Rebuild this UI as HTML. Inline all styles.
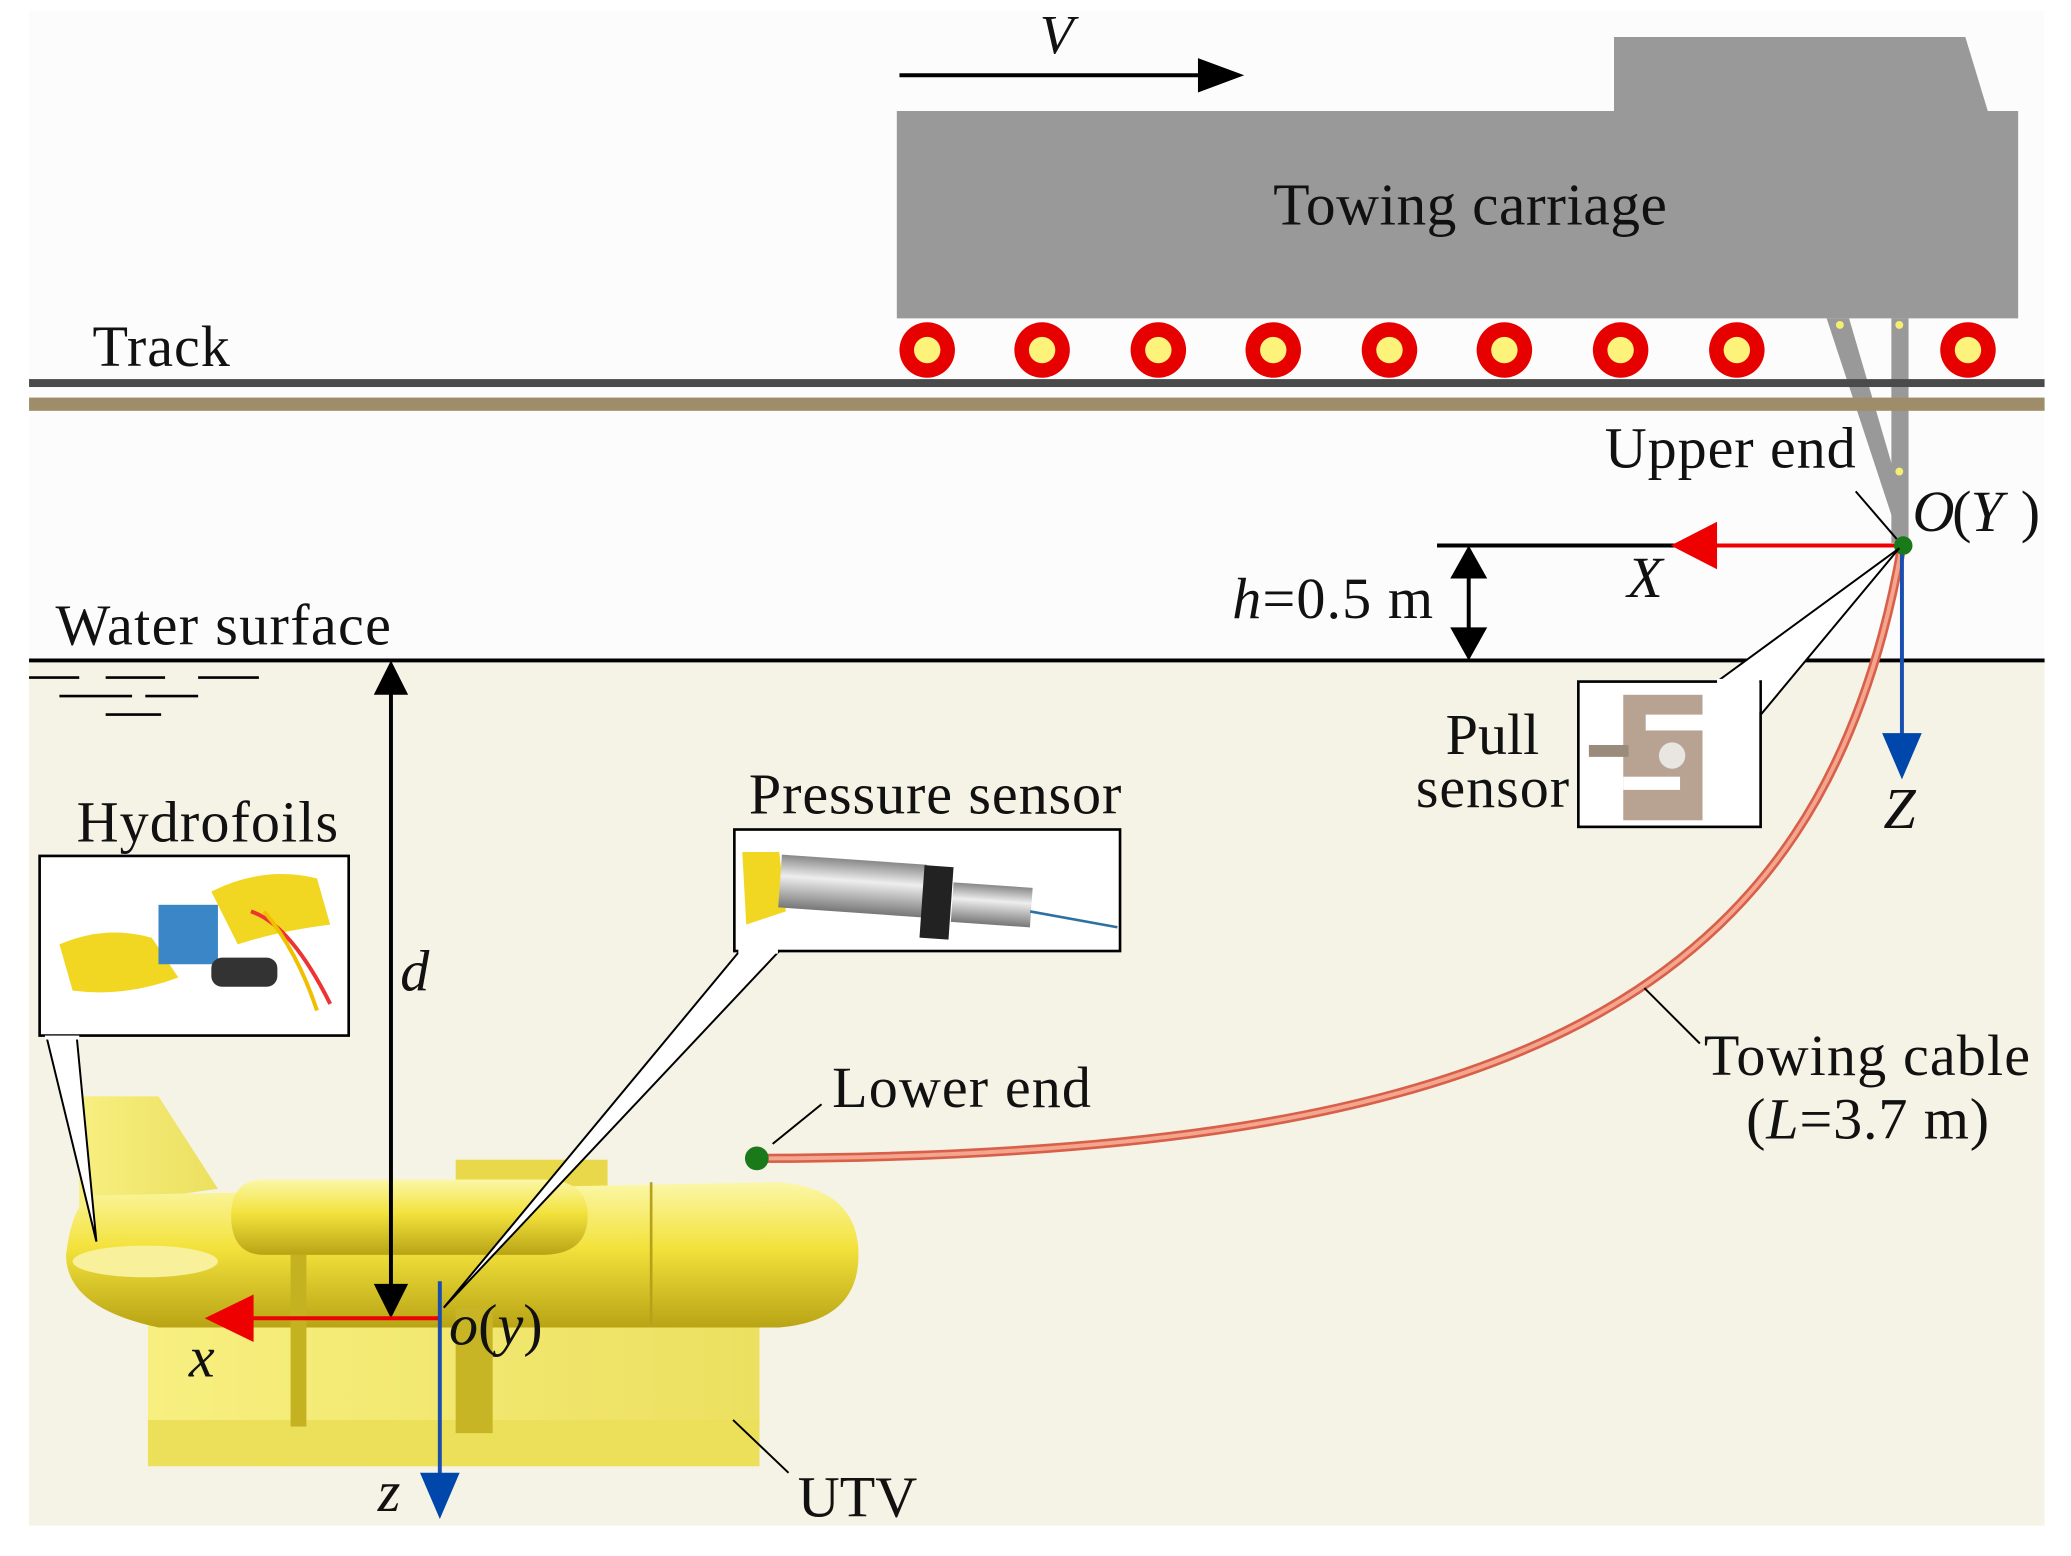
<!DOCTYPE html>
<html><head><meta charset="utf-8"><style>
html,body{margin:0;padding:0;background:#fff;}
svg{display:block;}
text{font-family:"Liberation Serif",serif;fill:#111;}
.i{font-style:italic;}
</style></head><body>
<svg width="2071" height="1556" viewBox="0 0 1568 1178" preserveAspectRatio="none" xmlns="http://www.w3.org/2000/svg">
<defs>
<linearGradient id="yb" x1="0" y1="0" x2="0" y2="1">
<stop offset="0" stop-color="#fbf7a8"/><stop offset="0.45" stop-color="#f3e23c"/><stop offset="1" stop-color="#b9a415"/>
</linearGradient>
<linearGradient id="yl" x1="0" y1="0" x2="1" y2="0">
<stop offset="0" stop-color="#f7ef80"/><stop offset="1" stop-color="#ece060"/>
</linearGradient>
<linearGradient id="met" x1="0" y1="0" x2="0" y2="1">
<stop offset="0" stop-color="#888"/><stop offset="0.4" stop-color="#eee"/><stop offset="1" stop-color="#777"/>
</linearGradient>
</defs>
<rect x="0" y="0" width="1568" height="1178" fill="#fff"/>
<rect x="22" y="8" width="1526" height="492" fill="#fcfcfc"/>
<rect x="22" y="500" width="1526" height="655" fill="#f5f3e5"/>

<!-- carriage -->
<polygon points="1222,28 1488,28 1505,84 1528,84 1528,241 679,241 679,84 1222,84" fill="#999"/>
<text x="1113" y="170" font-size="45" text-anchor="middle" textLength="298">Towing carriage</text>
<line x1="681" y1="57" x2="912" y2="57" stroke="#000" stroke-width="3"/>
<polygon points="942,57 907,44 907,70" fill="#000"/>
<text x="800" y="40" font-size="42" class="i" text-anchor="middle">V</text>

<!-- strut -->
<polygon points="1383,241 1400,241 1445,395 1437,405" fill="#999"/>
<rect x="1432" y="241" width="13" height="170" fill="#999"/>
<circle cx="1393" cy="246" r="3" fill="#f5ee70"/>
<circle cx="1438" cy="246" r="3" fill="#f5ee70"/>
<circle cx="1438" cy="357" r="3" fill="#f5ee70"/>

<!-- wheels -->
<g fill="#e60000">
<circle cx="702" cy="265" r="21"/><circle cx="789" cy="265" r="21"/><circle cx="877" cy="265" r="21"/><circle cx="964" cy="265" r="21"/><circle cx="1052" cy="265" r="21"/><circle cx="1139" cy="265" r="21"/><circle cx="1227" cy="265" r="21"/><circle cx="1315" cy="265" r="21"/><circle cx="1490" cy="265" r="21"/>
</g>
<g fill="#fdf27a">
<circle cx="702" cy="265" r="10"/><circle cx="789" cy="265" r="10"/><circle cx="877" cy="265" r="10"/><circle cx="964" cy="265" r="10"/><circle cx="1052" cy="265" r="10"/><circle cx="1139" cy="265" r="10"/><circle cx="1227" cy="265" r="10"/><circle cx="1315" cy="265" r="10"/><circle cx="1490" cy="265" r="10"/>
</g>

<!-- track -->
<rect x="22" y="287" width="1526" height="6" fill="#4a4a4a"/>
<rect x="22" y="301" width="1526" height="10" fill="#9e8d68"/>
<text x="70" y="277" font-size="44" textLength="104">Track</text>

<!-- upper end -->
<text x="1215" y="354" font-size="44" textLength="190">Upper end</text>
<line x1="1405" y1="372" x2="1436" y2="408" stroke="#000" stroke-width="1.5"/>
<text x="1448" y="402" font-size="44" class="i">O</text>
<text x="1478" y="402" font-size="44">(</text>
<text x="1492" y="402" font-size="44" class="i">Y</text>
<text x="1530" y="402" font-size="44">)</text>

<!-- X axis -->
<line x1="1088" y1="413" x2="1300" y2="413" stroke="#000" stroke-width="3"/>
<line x1="1298" y1="413" x2="1440" y2="413" stroke="#e00" stroke-width="3"/>
<polygon points="1265,413 1300,395 1300,431" fill="#e00"/>
<text x="1232" y="452" font-size="44" class="i">X</text>

<!-- h -->
<text x="933" y="468" font-size="44" textLength="152"><tspan class="i">h</tspan>=0.5 m</text>
<line x1="1112" y1="430" x2="1112" y2="484" stroke="#000" stroke-width="3"/>
<polygon points="1112,413 1098,438 1126,438" fill="#000"/>
<polygon points="1112,500 1098,475 1126,475" fill="#000"/>

<!-- water surface -->
<line x1="22" y1="500" x2="1548" y2="500" stroke="#000" stroke-width="3"/>
<text x="42" y="488" font-size="44" textLength="254">Water surface</text>
<g stroke="#000" stroke-width="2">
<line x1="22" y1="513" x2="60" y2="513"/><line x1="80" y1="513" x2="125" y2="513"/><line x1="150" y1="513" x2="196" y2="513"/>
<line x1="45" y1="527" x2="100" y2="527"/><line x1="110" y1="527" x2="150" y2="527"/>
<line x1="80" y1="541" x2="122" y2="541"/>
</g>

<!-- towing cable -->
<path d="M1440,413 C1380,760 1140,876 573,877" fill="none" stroke="#d8604a" stroke-width="7"/>
<path d="M1440,413 C1380,760 1140,876 573,877" fill="none" stroke="#f4a58e" stroke-width="3"/>

<!-- Z axis -->
<line x1="1440" y1="413" x2="1440" y2="560" stroke="#1a4fb0" stroke-width="3"/>
<polygon points="1440,590 1425,555 1455,555" fill="#0047ab"/>
<text x="1426" y="627" font-size="44" class="i">Z</text>
<circle cx="1441" cy="413" r="7" fill="#1a7a1a"/>

<!-- pull sensor -->
<polygon points="1438,415 1300,516 1334,540" fill="#fff" stroke="#000" stroke-width="1.5"/>
<rect x="1195" y="516" width="138" height="110" fill="#fff" stroke="#000" stroke-width="2"/>
<rect x="1300" y="514" width="32" height="25" fill="#fff"/>
<rect x="1229" y="526" width="60" height="95" fill="#b8a392"/>
<rect x="1246" y="541" width="43" height="12" fill="#fff"/>
<rect x="1229" y="588" width="43" height="10" fill="#fff"/>
<circle cx="1266" cy="572" r="10" fill="#e8e6e0"/>
<rect x="1203" y="564" width="30" height="9" fill="#9a8b7a"/>
<text x="1130" y="571" font-size="44" text-anchor="middle">Pull</text>
<text x="1130" y="611" font-size="44" text-anchor="middle" textLength="116">sensor</text>

<!-- towing cable label -->
<line x1="1245" y1="748" x2="1287" y2="790" stroke="#000" stroke-width="1.5"/>
<text x="1290" y="814" font-size="44" textLength="247">Towing cable</text>
<text x="1322" y="862" font-size="44" textLength="184">(<tspan class="i">L</tspan>=3.7 m)</text>

<!-- UTV -->
<polygon points="60,830 120,830 165,900 60,915" fill="url(#yl)"/>
<rect x="112" y="985" width="463" height="125" fill="url(#yl)"/>
<rect x="112" y="1075" width="463" height="35" fill="#ece05a"/>
<rect x="345" y="878" width="115" height="30" fill="#e9d84a"/>
<path d="M70,905 L590,895 Q650,900 650,950 Q650,1000 590,1005 L120,1005 Q50,990 50,950 Q55,910 70,905Z" fill="url(#yb)"/>
<path d="M200,893 L410,893 Q445,893 445,920 Q445,950 410,950 L200,950 Q175,950 175,920 Q175,893 200,893Z" fill="url(#yb)"/>
<ellipse cx="110" cy="955" rx="55" ry="12" fill="#f8f09a"/>
<rect x="220" y="950" width="12" height="130" fill="#c5b220"/>
<rect x="345" y="990" width="28" height="95" fill="#c8b525"/>
<line x1="493" y1="895" x2="493" y2="1003" stroke="#b5a21a" stroke-width="2"/>

<!-- d -->
<line x1="296" y1="520" x2="296" y2="980" stroke="#000" stroke-width="3"/>
<polygon points="296,500 283,526 309,526" fill="#000"/>
<polygon points="296,998 283,972 309,972" fill="#000"/>
<text x="303" y="750" font-size="44" class="i">d</text>

<!-- hydrofoils -->
<text x="58" y="637" font-size="44" textLength="198">Hydrofoils</text>
<polygon points="73,940 35,784 58,784" fill="#fff" stroke="#000" stroke-width="1.5"/>
<rect x="30" y="648" width="234" height="136" fill="#fff" stroke="#000" stroke-width="2"/>
<rect x="34" y="784" width="26" height="3" fill="#fff"/>
<path d="M160,675 Q200,655 240,665 L250,700 Q210,705 180,715Z" fill="#f2d722"/>
<path d="M45,715 Q80,700 115,710 L135,740 Q95,755 55,750Z" fill="#f2d722"/>
<rect x="120" y="685" width="45" height="45" fill="#3b86c6"/>
<rect x="160" y="725" width="50" height="22" rx="8" fill="#333"/>
<path d="M190,690 Q220,700 250,760" fill="none" stroke="#e33" stroke-width="3"/>
<path d="M200,690 Q225,720 240,765" fill="none" stroke="#f0c000" stroke-width="3"/>

<!-- pressure sensor -->
<text x="567" y="616" font-size="44" textLength="282">Pressure sensor</text>
<polygon points="336,990 560,720 590,720" fill="#fff" stroke="#000" stroke-width="1.5"/>
<rect x="556" y="628" width="292" height="92" fill="#fff" stroke="#000" stroke-width="2"/>
<rect x="559" y="718" width="30" height="4" fill="#fff"/>
<path d="M562,645 L590,645 L595,690 L565,700Z" fill="#f2d722"/>
<rect x="592" y="647" width="110" height="40" fill="url(#met)" transform="rotate(4 592 647)"/>
<rect x="700" y="655" width="22" height="55" fill="#222" transform="rotate(4 700 655)"/>
<rect x="722" y="668" width="60" height="30" fill="url(#met)" transform="rotate(4 722 668)"/>
<line x1="780" y1="690" x2="846" y2="702" stroke="#3070a0" stroke-width="2"/>

<!-- lower end -->
<circle cx="573" cy="877" r="9" fill="#1a7a1a"/>
<line x1="585" y1="866" x2="622" y2="836" stroke="#000" stroke-width="1.5"/>
<text x="630" y="838" font-size="44" textLength="196">Lower end</text>

<!-- body axes -->
<line x1="333" y1="998" x2="190" y2="998" stroke="#e00" stroke-width="3"/>
<polygon points="155,998 192,980 192,1016" fill="#e00"/>
<line x1="333" y1="970" x2="333" y2="1120" stroke="#1a4fb0" stroke-width="3"/>
<polygon points="333,1150 318,1115 348,1115" fill="#0047ab"/>
<text x="340" y="1018" font-size="44"><tspan class="i">o</tspan>(<tspan class="i">y</tspan>)</text>
<text x="143" y="1042" font-size="44" class="i">x</text>
<text x="286" y="1144" font-size="44" class="i">z</text>
<line x1="555" y1="1075" x2="597" y2="1115" stroke="#000" stroke-width="1.5"/>
<text x="604" y="1148" font-size="44">UTV</text>
</svg>
</body></html>
